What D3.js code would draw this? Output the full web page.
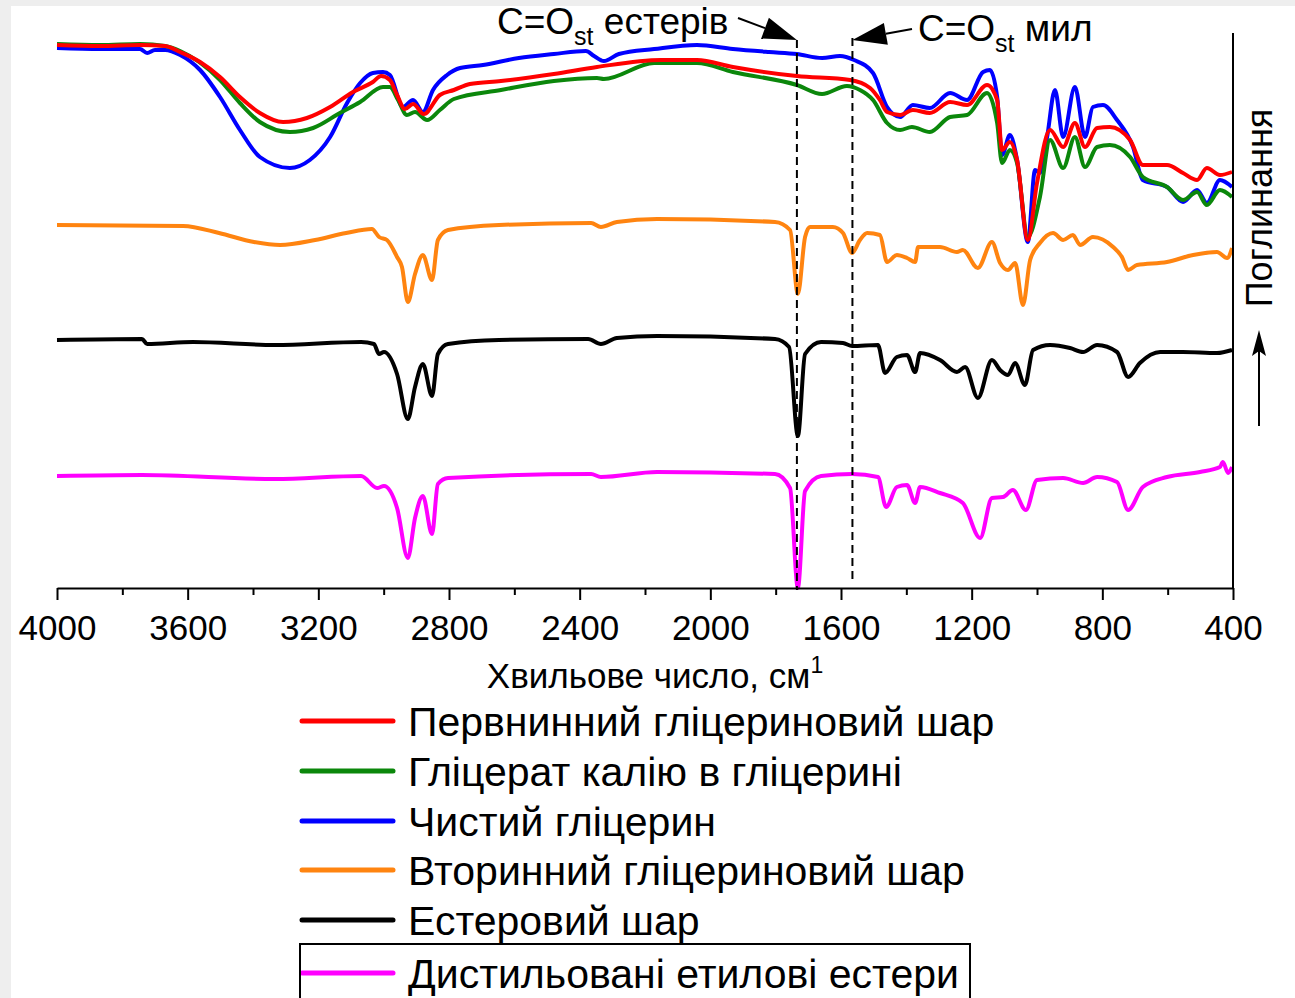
<!DOCTYPE html>
<html>
<head>
<meta charset="utf-8">
<script src="https://cdn.jsdelivr.net/npm/d3@7"></script>
<style>
  body { margin: 0; background: #eeeeee; }
  text { font-family: "Liberation Sans", Arial, sans-serif; fill: #000; }
</style>
</head>
<body>
<script>
// wavenumber (cm-1), offset intensity (a.u.)
var pervynnyi = [[4000,5.43],[3868,5.42],[3746,5.43],[3669,5.42],[3623,5.36],[3562,5.26],[3501,5.11],[3440,4.91],[3379,4.75],[3308,4.66],[3235,4.70],[3164,4.81],[3094,4.96],[3033,5.06],[3008,5.12],[2981,5.08],[2959,4.93],[2935,4.79],[2910,4.84],[2877,4.74],[2828,4.93],[2785,4.98],[2736,5.04],[2641,5.07],[2479,5.14],[2347,5.21],[2151,5.28],[2041,5.28],[1931,5.21],[1735,5.12],[1572,5.08],[1511,5.00],[1481,4.88],[1459,4.76],[1419,4.73],[1380,4.78],[1328,4.75],[1266,4.86],[1214,4.83],[1153,5.03],[1122,4.88],[1107,4.38],[1083,4.46],[1061,4.28],[1028,3.48],[1000,4.05],[960,4.58],[920,4.41],[884,4.65],[853,4.41],[816,4.60],[777,4.61],[715,4.48],[676,4.23],[602,4.23],[553,4.15],[510,4.08],[480,4.20],[440,4.13],[403,4.16]];

var hliceratKaliiu = [[4000,5.44],[3868,5.43],[3746,5.44],[3669,5.42],[3623,5.37],[3501,5.08],[3440,4.85],[3379,4.66],[3287,4.56],[3216,4.60],[3134,4.75],[3072,4.86],[3002,5.01],[2981,5.01],[2956,4.88],[2929,4.73],[2904,4.76],[2867,4.68],[2828,4.78],[2785,4.89],[2641,4.98],[2479,5.07],[2347,5.10],[2326,5.09],[2172,5.25],[2041,5.25],[1931,5.16],[1735,5.03],[1658,4.94],[1582,5.02],[1542,4.98],[1502,4.88],[1459,4.65],[1419,4.58],[1383,4.61],[1328,4.56],[1266,4.71],[1214,4.73],[1153,4.95],[1122,4.65],[1107,4.25],[1083,4.38],[1061,4.25],[1028,3.51],[991,3.91],[960,4.48],[920,4.20],[884,4.51],[853,4.21],[816,4.41],[777,4.43],[715,4.31],[676,4.11],[602,4.01],[553,3.88],[510,3.96],[480,3.83],[440,3.98],[403,3.91]];

var chystyi = [[4000,5.40],[3868,5.39],[3746,5.39],[3724,5.35],[3700,5.38],[3669,5.38],[3623,5.33],[3562,5.18],[3501,4.91],[3440,4.58],[3379,4.31],[3287,4.20],[3226,4.28],[3164,4.51],[3112,4.85],[3072,5.05],[3033,5.15],[3002,5.16],[2981,5.13],[2941,4.81],[2910,4.88],[2880,4.76],[2849,4.98],[2806,5.13],[2766,5.20],[2696,5.23],[2586,5.30],[2479,5.34],[2381,5.37],[2356,5.32],[2326,5.27],[2280,5.34],[2172,5.39],[2041,5.43],[1931,5.39],[1820,5.36],[1735,5.34],[1658,5.30],[1603,5.32],[1560,5.28],[1502,5.15],[1459,4.81],[1419,4.71],[1380,4.83],[1328,4.80],[1266,4.95],[1214,4.88],[1165,5.16],[1144,5.18],[1122,4.91],[1107,4.33],[1083,4.53],[1061,4.28],[1028,3.46],[1006,4.18],[991,4.15],[969,4.51],[945,4.98],[920,4.51],[884,5.01],[853,4.51],[829,4.81],[798,4.83],[755,4.68],[706,4.41],[676,4.08],[602,4.01],[553,3.86],[510,3.98],[480,3.85],[440,4.08],[403,4.01]];

var vtorynnyi = [[4000,3.63],[3614,3.62],[3504,3.55],[3397,3.46],[3317,3.43],[3210,3.48],[3115,3.55],[3036,3.59],[3014,3.51],[2990,3.48],[2959,3.31],[2944,3.21],[2926,2.86],[2904,3.14],[2880,3.33],[2852,3.08],[2834,3.48],[2803,3.58],[2647,3.63],[2365,3.65],[2335,3.61],[2286,3.66],[2163,3.69],[1802,3.66],[1756,3.58],[1732,2.94],[1710,3.51],[1695,3.61],[1625,3.61],[1594,3.55],[1566,3.35],[1542,3.48],[1520,3.55],[1481,3.53],[1459,3.26],[1429,3.33],[1398,3.30],[1373,3.26],[1364,3.41],[1297,3.41],[1245,3.36],[1227,3.38],[1181,3.20],[1138,3.46],[1113,3.25],[1089,3.18],[1067,3.25],[1043,2.83],[1021,3.28],[991,3.45],[951,3.55],[920,3.48],[890,3.53],[868,3.43],[829,3.51],[767,3.41],[740,3.31],[721,3.18],[694,3.23],[602,3.26],[522,3.33],[449,3.36],[418,3.30],[403,3.40]];

var esterovyi = [[4000,2.48],[3740,2.49],[3724,2.44],[3584,2.46],[3333,2.43],[3069,2.46],[3030,2.44],[3014,2.34],[2999,2.36],[2959,2.14],[2926,1.69],[2904,2.01],[2880,2.24],[2852,1.92],[2834,2.34],[2803,2.44],[2647,2.48],[2374,2.49],[2335,2.44],[2286,2.50],[2163,2.52],[1802,2.49],[1759,2.41],[1732,1.52],[1710,2.34],[1661,2.46],[1594,2.45],[1566,2.42],[1487,2.43],[1465,2.15],[1429,2.31],[1398,2.33],[1373,2.16],[1358,2.35],[1297,2.28],[1245,2.16],[1220,2.21],[1181,1.90],[1138,2.28],[1113,2.18],[1089,2.13],[1067,2.25],[1037,2.03],[1012,2.38],[960,2.43],[899,2.40],[859,2.36],[816,2.43],[755,2.36],[721,2.11],[685,2.25],[623,2.36],[553,2.36],[449,2.35],[403,2.38]];

var dystylovani = [[4000,1.12],[3740,1.13],[3333,1.09],[3069,1.12],[3020,1.00],[2999,1.02],[2959,0.80],[2926,0.30],[2904,0.70],[2880,0.92],[2852,0.54],[2834,1.04],[2803,1.10],[2365,1.14],[2335,1.11],[2163,1.16],[1802,1.14],[1756,1.00],[1732,0.00],[1710,0.97],[1661,1.12],[1566,1.14],[1487,1.11],[1462,0.81],[1429,1.01],[1398,1.03],[1373,0.85],[1358,1.01],[1297,0.95],[1227,0.85],[1174,0.50],[1138,0.90],[1104,0.91],[1074,0.98],[1034,0.78],[1000,1.08],[920,1.10],[859,1.05],[816,1.11],[755,1.06],[721,0.78],[676,1.01],[602,1.11],[501,1.16],[440,1.21],[431,1.26],[415,1.15],[403,1.21]];

var seriesNames = ["Первнинний гліцериновий шар", "Гліцерат калію в гліцерині", "Чистий гліцерин",
                   "Вторинний гліцериновий шар", "Естеровий шар", "Дистильовані етилові естери"];
var seriesColors = ["#ff0000", "#0b870b", "#0000ff", "#ff8410", "#000000", "#ff00ff"];
var seriesData = [pervynnyi, hliceratKaliiu, chystyi, vtorynnyi, esterovyi, dystylovani];

var majorTicks = [4000, 3600, 3200, 2800, 2400, 2000, 1600, 1200, 800, 400];
var minorTicks = [3800, 3400, 3000, 2600, 2200, 1800, 1400, 1000, 600];
var markerLines = [1735, 1565]; // C=O естерів, C=O мил

var W = 1295, H = 998;
var svg = d3.select("body").append("svg")
    .attr("width", W)
    .attr("height", H)
    .style("display", "block");

svg.append("rect")
    .attr("x", 11).attr("y", 6)
    .attr("width", W - 11).attr("height", H - 6)
    .attr("fill", "#ffffff");

var x = d3.scaleLinear().domain([4000, 400]).range([57, 1233]);
var y = d3.scaleLinear().domain([0, 5.6]).range([588, 28]);

var line = d3.line()
    .x(function(d) { return x(d[0]); })
    .y(function(d) { return y(d[1]); })
    .curve(d3.curveMonotoneX);

// spectra, bottom to top so the top group overlaps like the original
[5, 4, 3, 2, 1, 0].forEach(function(i) {
  svg.append("path")
      .datum(seriesData[i])
      .attr("fill", "none")
      .attr("stroke", seriesColors[i])
      .attr("stroke-width", 4)
      .attr("stroke-linejoin", "round")
      .attr("d", line);
});

// dashed marker lines
markerLines.forEach(function(w, k) {
  svg.append("line")
      .attr("x1", x(w)).attr("x2", x(w))
      .attr("y1", k === 0 ? 40 : 38)
      .attr("y2", k === 0 ? 590 : 584)
      .attr("stroke", "#000")
      .attr("stroke-width", 2)
      .attr("stroke-dasharray", "8,5");
});

// x axis
var axisG = svg.append("g").attr("transform", "translate(0,588)");
axisG.call(d3.axisBottom(x).tickValues(majorTicks).tickSize(12).tickSizeOuter(0).tickFormat(d3.format("d")));
var minorG = svg.append("g").attr("transform", "translate(0,588)");
minorG.call(d3.axisBottom(x).tickValues(minorTicks).tickSize(7).tickSizeOuter(0).tickFormat(""));
minorG.select(".domain").remove();
svg.selectAll(".domain").attr("stroke", "#000").attr("stroke-width", 2);
svg.selectAll(".tick line").attr("stroke", "#000").attr("stroke-width", 2);
axisG.selectAll(".tick text")
    .attr("y", 27)
    .style("font-family", "Liberation Sans, Arial, sans-serif")
    .style("font-size", "35px");

// right frame line
svg.append("line")
    .attr("x1", x(400)).attr("x2", x(400))
    .attr("y1", 33).attr("y2", 588)
    .attr("stroke", "#000").attr("stroke-width", 2);

// x title
var xt = svg.append("text")
    .attr("x", 655).attr("y", 688)
    .attr("text-anchor", "middle")
    .style("font-size", "35px");
xt.append("tspan").text("Хвильове число, см");
xt.append("tspan").attr("dy", -15).style("font-size", "23px").text("1");

// right label and arrow
svg.append("text")
    .attr("transform", "translate(1272,208) rotate(-90)")
    .attr("text-anchor", "middle")
    .style("font-size", "36px")
    .text("Поглинання");
svg.append("line")
    .attr("x1", 1259).attr("x2", 1259)
    .attr("y1", 426).attr("y2", 350)
    .attr("stroke", "#000").attr("stroke-width", 2);
svg.append("path")
    .attr("d", "M1259,330 L1266,356 L1259,351 L1252,356 Z")
    .attr("fill", "#000");

// annotations with arrows
function arrow(x1, y1, x2, y2) {
  var ang = Math.atan2(y2 - y1, x2 - x1);
  var len = 34, half = 11;
  var bx = x2 - len * Math.cos(ang), by = y2 - len * Math.sin(ang);
  svg.append("line")
      .attr("x1", x1).attr("y1", y1).attr("x2", bx).attr("y2", by)
      .attr("stroke", "#000").attr("stroke-width", 2);
  var p1 = [bx + half * Math.sin(ang), by - half * Math.cos(ang)];
  var p2 = [bx - half * Math.sin(ang), by + half * Math.cos(ang)];
  svg.append("path")
      .attr("d", "M" + x2 + "," + y2 + "L" + p1 + "L" + p2 + "Z")
      .attr("fill", "#000");
}

var a1 = svg.append("text").attr("x", 497).attr("y", 34).style("font-size", "37px");
a1.append("tspan").text("C=O");
a1.append("tspan").attr("dy", 11).style("font-size", "25px").text("st");
a1.append("tspan").attr("dy", -11).text(" естерів");
arrow(738, 18, x(1735), 40);

var a2 = svg.append("text").attr("x", 918).attr("y", 41).style("font-size", "37px");
a2.append("tspan").text("C=O");
a2.append("tspan").attr("dy", 11).style("font-size", "25px").text("st");
a2.append("tspan").attr("dy", -11).text(" мил");
arrow(912, 29, x(1565), 40);

// legend
var legendY = [721, 771, 821, 870, 920, 973];
var legend = svg.append("g");
seriesNames.forEach(function(name, i) {
  legend.append("line")
      .attr("x1", 302).attr("x2", 393)
      .attr("y1", legendY[i]).attr("y2", legendY[i])
      .attr("stroke", seriesColors[i])
      .attr("stroke-width", 5)
      .attr("stroke-linecap", "round");
  legend.append("text")
      .attr("x", 408).attr("y", legendY[i] + 15)
      .style("font-size", "41px")
      .text(name);
});
legend.append("rect")
    .attr("x", 300).attr("y", 944)
    .attr("width", 670).attr("height", 60)
    .attr("fill", "none")
    .attr("stroke", "#000")
    .attr("stroke-width", 2);
</script>
</body>
</html>
